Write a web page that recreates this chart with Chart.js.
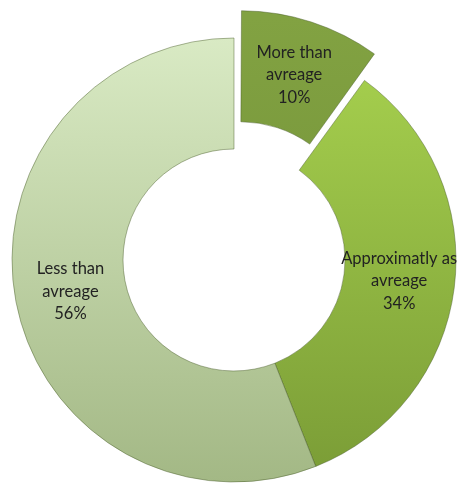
<!DOCTYPE html>
<html>
<head>
<meta charset="utf-8">
<script src="https://cdn.jsdelivr.net/npm/chart.js@4"></script>
<style>
  html, body { margin: 0; padding: 0; background: #fff; }
  canvas { display: block; }
</style>
</head>
<body>
<canvas id="donut" width="459" height="483"></canvas>
<script>
// Datos
const categorias = [
  ["More than", "avreage"],
  ["Approximatly as", "avreage"],
  ["Less than", "avreage"]
];
const porcentajes = [10, 34, 56];

// colores de degradado (arriba -> abajo) por porción
const coloresArriba = ["#82a242", "#a8d24f", "#d9eac4"];
const coloresAbajo = ["#6d8c34", "#7a9c36", "#a3b885"];

function degradado(context) {
  const chart = context.chart;
  const area = chart.chartArea;
  const i = context.dataIndex;
  if (!area) return coloresAbajo[i];
  const g = chart.ctx.createLinearGradient(0, area.top, 0, area.bottom);
  g.addColorStop(0, coloresArriba[i]);
  g.addColorStop(1, coloresAbajo[i]);
  return g;
}

// etiquetas dentro de cada porción
const etiquetas = {
  id: "etiquetas",
  afterDatasetsDraw(chart) {
    const ctx = chart.ctx;
    const meta = chart.getDatasetMeta(0);
    ctx.save();
    ctx.font = "16.5px Lato, 'Open Sans', sans-serif";
    ctx.fillStyle = "#222";
    ctx.textAlign = "center";
    ctx.textBaseline = "middle";
    meta.data.forEach((arc, i) => {
      const p = arc.getProps(["x", "y", "startAngle", "endAngle", "innerRadius", "outerRadius"], true);
      const off = (arc.options.offset || 0) / 4;
      const fix = 1 - Math.sin(Math.min(Math.PI, p.endAngle - p.startAngle));
      const mid = (p.startAngle + p.endAngle) / 2;
      const r = (p.innerRadius + p.outerRadius) / 2 + off * fix + off;
      const cx = p.x + Math.cos(mid) * r;
      const cy = p.y + Math.sin(mid) * r;
      const lineas = categorias[i].concat([porcentajes[i] + "%"]);
      const alto = 22.5;
      lineas.forEach((t, k) => {
        ctx.fillText(t, cx, cy + (k - (lineas.length - 1) / 2) * alto);
      });
    });
    ctx.restore();
  }
};

new Chart(document.getElementById("donut").getContext("2d"), {
  type: "doughnut",
  data: {
    labels: categorias.map((c) => c.join(" ")),
    datasets: [{
      data: porcentajes,
      backgroundColor: degradado,
      borderColor: "rgba(70, 90, 40, 0.45)",
      borderWidth: 1,
      offset: [80, 0, 0]
    }]
  },
  options: {
    responsive: false,
    animation: false,
    radius: 222,
    cutout: "50%",
    layout: { padding: { left: 9, right: 0, top: 37, bottom: 0 } },
    plugins: {
      legend: { display: false },
      tooltip: { enabled: false }
    }
  },
  plugins: [etiquetas]
});
</script>
</body>
</html>
